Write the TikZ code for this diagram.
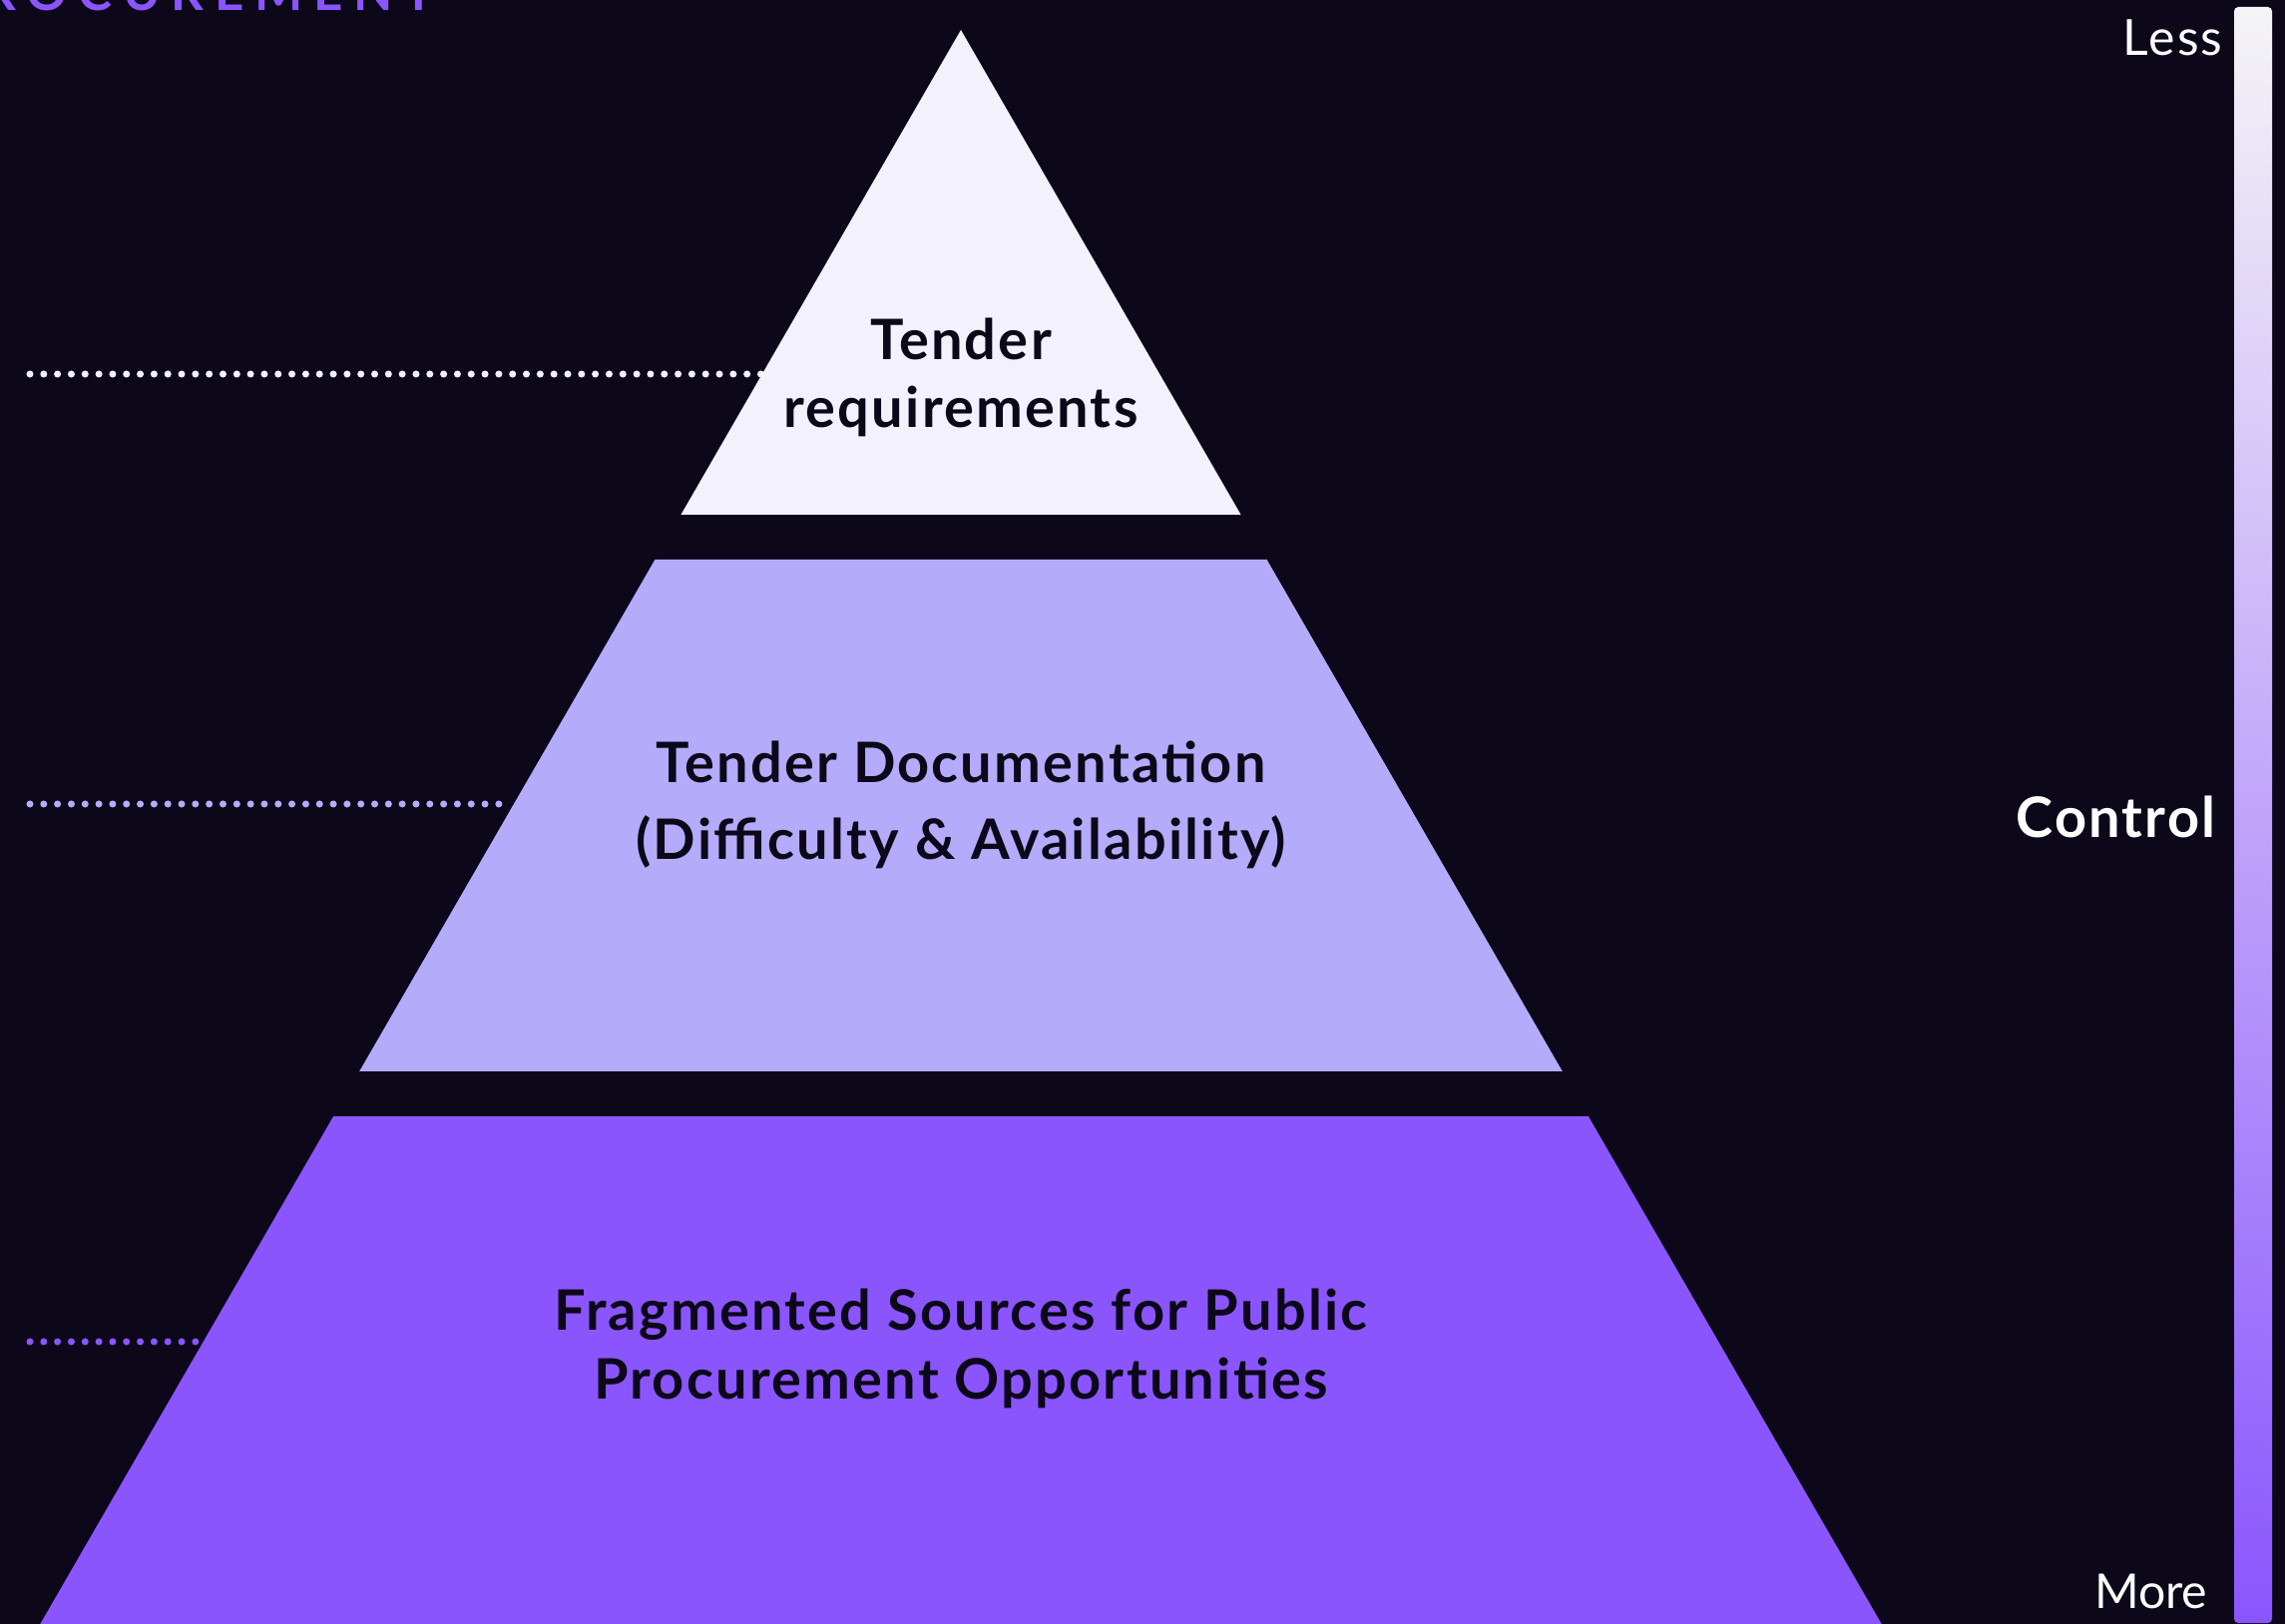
\documentclass[tikz,border=0pt]{standalone}
\usepackage{fontspec}
\setmainfont{Lato}
\newfontfamily\trackfont{Lato}[LetterSpace=21]
\newfontfamily\tierfont{Lato}[LetterSpace=4]
\definecolor{bgdark}{HTML}{0C0819}
\definecolor{tierone}{HTML}{F3F1FC}
\definecolor{tiertwo}{HTML}{B4ACFB}
\definecolor{tierthree}{HTML}{8B55FE}
\definecolor{barlight}{HTML}{F5F4F6}

\begin{document}
\begin{tikzpicture}[x=0.01cm, y=-0.01cm,
  tiertext/.style={text=bgdark, align=center, anchor=base,
    font=\tierfont\bfseries\fontsize{15.9pt}{19.6pt}\selectfont},
  guide/.style={line width=2pt, line cap=round, dash pattern=on 0pt off 3.93pt},
  sidetext/.style={text=white, anchor=base east, inner sep=0pt}]
% 背景与画布
\useasboundingbox (0,0) rectangle (2290,1628);
\clip (0,0) rectangle (2290,1628);
\fill[bgdark] (0,0) rectangle (2290,1628);

% 标题（上边被裁掉）
\node[anchor=base west, inner sep=0pt, text=tierthree,
  font=\trackfont\bfseries\fontsize{14.5pt}{17pt}\selectfont] (title) at (-17,11) {ROCUREMENT};

% 金字塔三层
\fill[tierone] (963,30) -- (1243.6,516) -- (682.4,516) -- cycle;
\fill[tiertwo] (656.4,561) -- (1269.6,561) -- (1565.8,1074) -- (360.2,1074) -- cycle;
\fill[tierthree] (334.2,1119) -- (1591.8,1119) -- (1892.6,1640) -- (33.4,1640) -- cycle;

% 文字（base 取最后一行基线）
\node[tiertext] (tip) at (963,429) {Tender\\requirements};
\node[tiertext, font=\tierfont\bfseries\fontsize{15.9pt}{21.9pt}\selectfont] (docs) at (963,862)
  {Tender Documentation\\(Difficulty \& Availability)};
\node[tiertext] (sources) at (963,1402) {Fragmented Sources for Public\\Procurement Opportunities};

% 左侧虚线
\coordinate (g1s) at (30,375);   \coordinate (g1e) at (764,375);
\coordinate (g2s) at (30,806);   \coordinate (g2e) at (513,806);
\coordinate (g3s) at (30,1345);  \coordinate (g3e) at (201,1345);
\draw[guide, tierone] (g1s) -- (g1e);
\draw[guide, tiertwo] (g2s) -- (g2e);
\draw[guide, tierthree] (g3s) -- (g3e);

% 右侧渐变条
\shade[top color=barlight, bottom color=tierthree, rounded corners=1.2pt] (2239,7) rectangle (2277,1627);
\node[sidetext, font=\tierfont\fontsize{14.2pt}{16pt}\selectfont] (less) at (2228,56) {Less};
\node[sidetext, font=\fontsize{13.7pt}{16pt}\selectfont] (more) at (2213,1612) {More};
\node[sidetext, font=\tierfont\bfseries\fontsize{15.9pt}{18pt}\selectfont] (control) at (2221,840) {Control};
\end{tikzpicture}
\end{document}
